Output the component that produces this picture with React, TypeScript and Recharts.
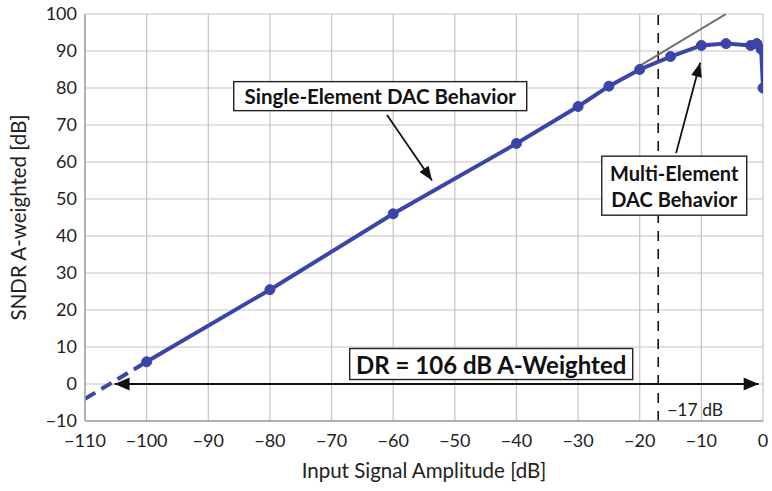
import React from "react";
import {
  ComposedChart,
  Line,
  XAxis,
  YAxis,
  CartesianGrid,
  ReferenceLine,
  ReferenceDot,
} from "recharts";

document.body.style.margin = "0";

const FONT = "Lato, 'Open Sans', sans-serif";
const BLUE = "#3b45a8";

// Measured SNDR vs input level
const MEAS_X = [-100, -80, -60, -40, -30, -25, -20, -15, -10, -6, -2, -1, -0.3, 0];
const MEAS_Y = [6, 25.5, 46, 65, 75, 80.5, 85, 88.5, 91.5, 92, 91.5, 92, 90.5, 80];

// Extrapolation below the lowest measured point
const EXTRAP_X = [-110, -100];
const EXTRAP_Y = [-4, 6];

// Ideal single-element slope continued past the knee
const IDEAL_X = [-20, -6];
const IDEAL_Y = [86, 100];

const X_TICKS = [-110, -100, -90, -80, -70, -60, -50, -40, -30, -20, -10, 0];
const Y_TICKS = [-10, 0, 10, 20, 30, 40, 50, 60, 70, 80, 90, 100];

const zip = (xs: number[], ys: number[]) => xs.map((x, i) => ({ x, y: ys[i] }));

const measured = zip(MEAS_X, MEAS_Y);
const extrap = zip(EXTRAP_X, EXTRAP_Y);
const ideal = zip(IDEAL_X, IDEAL_Y);

const fmt = (v: number) => (v < 0 ? `\u2212${Math.abs(v)}` : `${v}`);

function arrowHead(x1: number, y1: number, x2: number, y2: number, len = 14, w = 5.5) {
  const a = Math.atan2(y2 - y1, x2 - x1);
  const bx = x2 - len * Math.cos(a);
  const by = y2 - len * Math.sin(a);
  const px = -Math.sin(a) * w;
  const py = Math.cos(a) * w;
  return `${x2},${y2} ${bx + px},${by + py} ${bx - px},${by - py}`;
}

const SingleArrow = (p: any) => (
  <g>
    <line x1={p.x1} y1={p.y1} x2={p.x2} y2={p.y2} stroke="#111" strokeWidth={1.8} />
    <polygon points={arrowHead(p.x1, p.y1, p.x2, p.y2)} fill="#111" />
  </g>
);

const DoubleArrow = (p: any) => (
  <g>
    <line x1={p.x1} y1={p.y1} x2={p.x2} y2={p.y2} stroke="#111" strokeWidth={1.8} />
    <polygon points={arrowHead(p.x1, p.y1, p.x2, p.y2, 15, 6.5)} fill="#111" />
    <polygon points={arrowHead(p.x2, p.y2, p.x1, p.y1, 15, 6.5)} fill="#111" />
  </g>
);

const KneeLine = (p: any) => (
  <g>
    <line
      x1={p.x1}
      y1={p.y1}
      x2={p.x2}
      y2={p.y2}
      stroke="#111"
      strokeWidth={1.6}
      strokeDasharray="10 8"
    />
    <text
      x={p.x1 + 9}
      y={Math.max(p.y1, p.y2) - 5}
      fontFamily={FONT}
      fontSize={17.5}
      fill="#222"
    >
      {"\u221217 dB"}
    </text>
  </g>
);

function makeBox(lines: string[], w: number, h: number, size: number) {
  return (p: any) => {
    const { cx, cy } = p;
    const lh = size * 1.3;
    const first = cy - ((lines.length - 1) * lh) / 2;
    return (
      <g>
        <rect
          x={cx - w / 2}
          y={cy - h / 2}
          width={w}
          height={h}
          fill="#fff"
          stroke="#222"
          strokeWidth={1.4}
        />
        {lines.map((t, i) => (
          <text
            key={t}
            x={cx}
            y={first + i * lh}
            textAnchor="middle"
            dominantBaseline="central"
            fontFamily={FONT}
            fontWeight={700}
            fontSize={size}
            fill="#111"
          >
            {t}
          </text>
        ))}
      </g>
    );
  };
}

const YLabel = (props: any) => {
  const { viewBox } = props;
  const cy = viewBox.y + viewBox.height / 2;
  return (
    <text
      x={18}
      y={cy}
      transform={`rotate(-90, 18, ${cy})`}
      textAnchor="middle"
      dominantBaseline="central"
      fontFamily={FONT}
      fontSize={20.5}
      fill="#222"
    >
      SNDR A-weighted [dB]
    </text>
  );
};

export default function App() {
  return (
    <ComposedChart
      width={772}
      height={491}
      margin={{ top: 14, right: 9, left: 0, bottom: 0 }}
      style={{ background: "#fff" }}
    >
      <CartesianGrid stroke="#c4c4c4" strokeWidth={1.2} />
      <XAxis
        dataKey="x"
        type="number"
        domain={[-110, 0]}
        ticks={X_TICKS}
        tickFormatter={fmt}
        allowDataOverflow
        height={70}
        tickLine={false}
        tickMargin={7}
        axisLine={{ stroke: "#a0a0a0", strokeWidth: 1.4 }}
        tick={{ fontSize: 18, fill: "#222", fontFamily: FONT }}
        label={{
          value: "Input Signal Amplitude [dB]",
          position: "insideBottom",
          offset: 13,
          style: { fontSize: 20.5, fill: "#222", fontFamily: FONT },
        }}
      />
      <YAxis
        dataKey="y"
        type="number"
        domain={[-10, 100]}
        ticks={Y_TICKS}
        tickFormatter={fmt}
        allowDataOverflow
        width={85}
        tickLine={false}
        axisLine={{ stroke: "#a0a0a0", strokeWidth: 1.4 }}
        tick={{ fontSize: 18, fill: "#222", fontFamily: FONT }}
        label={<YLabel />}
      />

      {/* -17 dB knee marker */}
      <ReferenceLine x={-17} shape={KneeLine} />

      {/* dynamic range span */}
      <ReferenceLine
        segment={[
          { x: -105.2, y: 0 },
          { x: -0.7, y: 0 },
        ]}
        shape={DoubleArrow}
      />

      <Line
        data={ideal}
        dataKey="y"
        stroke="#6e6e6e"
        strokeWidth={2}
        dot={false}
        isAnimationActive={false}
      />
      <Line
        data={extrap}
        dataKey="y"
        stroke={BLUE}
        strokeWidth={4}
        strokeDasharray="12 7"
        dot={false}
        isAnimationActive={false}
      />
      <Line
        data={measured}
        dataKey="y"
        stroke={BLUE}
        strokeWidth={4}
        dot={{ r: 5, fill: BLUE, stroke: BLUE, strokeWidth: 1 }}
        isAnimationActive={false}
      />

      {/* callouts */}
      <ReferenceLine
        segment={[
          { x: -61, y: 72.7 },
          { x: -53.7, y: 55 },
        ]}
        shape={SingleArrow}
      />
      <ReferenceLine
        segment={[
          { x: -14.1, y: 62.4 },
          { x: -10.2, y: 86.8 },
        ]}
        shape={SingleArrow}
      />
      <ReferenceDot
        x={-62.1}
        y={77.8}
        shape={makeBox(["Single-Element DAC Behavior"], 293, 29, 20.5)}
      />
      <ReferenceDot
        x={-14.4}
        y={53.6}
        shape={makeBox(["Multi-Element", "DAC Behavior"], 145, 59, 20)}
      />
      <ReferenceDot
        x={-44.1}
        y={5.4}
        shape={makeBox(["DR = 106 dB A-Weighted"], 283, 31, 24)}
      />
    </ComposedChart>
  );
}
